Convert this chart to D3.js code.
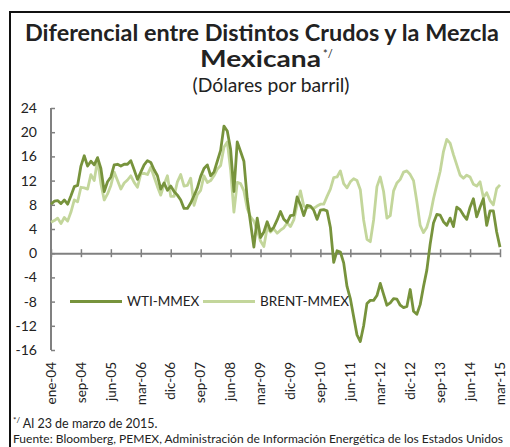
<!DOCTYPE html>
<html>
<head>
<meta charset="utf-8">
<script src="https://cdn.jsdelivr.net/npm/d3@7"></script>
<style>
  body { margin: 0; background: #fff; }
  text { font-family: Lato, "Noto Sans", sans-serif; fill: #222; }
</style>
</head>
<body>
<svg id="chart" width="510" height="447"></svg>
<script>
// tick labels (one every 9 positions)
const tickLabels = ["ene-04", "sep-04", "jun-05", "mar-06", "dic-06", "sep-07", "jun-08", "mar-09",
  "dic-09", "sep-10", "jun-11", "mar-12", "dic-12", "sep-13", "jun-14", "mar-15"]
const yTicks = [24, 20, 16, 12, 8, 4, 0, -4, -8, -12, -16]

// monthly differentials
const wti = [8.1, 8.6, 8.7, 8.2, 8.8, 8.1, 9.5, 11.0, 11.2, 14.4,
  16.1, 14.4, 15.2, 14.6, 15.8, 14.0, 10.2, 11.8, 12.6, 14.6,
  14.7, 14.4, 14.7, 14.7, 15.3, 13.8, 12.2, 13.4, 14.6, 15.3,
  15.0, 13.8, 12.8, 10.6, 11.6, 10.4, 11.1, 10.2, 9.6, 8.8,
  7.4, 7.4, 8.3, 9.5, 10.8, 12.7, 14.0, 14.6, 12.8, 13.4,
  15.2, 17.0, 21.0, 20.2, 17.2, 10.2, 18.4, 16.8, 15.2, 9.0,
  5.0, 1.0, 5.8, 2.6, 3.5, 5.2, 3.7, 4.3, 5.5, 6.9,
  5.6, 5.1, 6.2, 6.3, 9.3, 8.0, 6.2, 7.9, 7.8, 7.1,
  5.6, 7.1, 7.2, 7.0, 4.3, -1.5, 0.4, 0.2, -1.6, -5.5,
  -7.5, -10.5, -13.5, -14.6, -12.0, -8.3, -7.8, -7.8, -7.0, -5.0,
  -6.8, -8.6, -8.2, -7.5, -7.6, -8.6, -9.0, -8.8, -6.0, -9.6,
  -10.1, -8.5, -5.5, -2.8, 1.5, 5.0, 6.4, 6.3, 5.2, 4.6,
  5.8, 4.4, 7.6, 7.2, 6.3, 5.6, 7.6, 9.0, 6.0, 7.6,
  9.0, 4.6, 7.0, 7.0, 3.5, 1.0]

const brent = [5.1, 5.4, 5.8, 4.9, 5.9, 5.3, 6.8, 8.8, 8.5, 10.9,
  10.8, 10.6, 13.0, 12.0, 15.5, 11.5, 8.8, 9.8, 11.2, 13.4,
  12.0, 10.6, 11.6, 12.1, 12.8, 11.7, 10.9, 13.1, 13.2, 13.0,
  14.2, 12.6, 11.0, 9.6, 11.4, 12.8, 9.4, 9.4, 11.8, 13.0,
  11.1, 11.2, 12.4, 7.9, 9.7, 10.4, 12.8, 11.7, 12.0, 12.8,
  13.9, 14.5, 17.5, 18.4, 13.8, 6.8, 11.7, 11.5, 10.3, 7.4,
  6.0, 5.3, 3.8, 2.0, 1.1, 4.2, 3.5, 4.0, 3.3, 3.8,
  4.2, 5.0, 4.4, 5.5, 8.0, 10.3, 7.8, 7.5, 7.6, 7.4,
  7.8, 8.1, 8.1, 9.4, 10.6, 12.5, 12.6, 13.6, 11.5, 10.8,
  11.8, 12.3, 12.0, 10.5, 5.5, 2.3, 1.9, 5.5, 11.0, 12.6,
  10.2, 5.8, 6.2, 10.3, 11.6, 12.2, 13.4, 13.6, 13.0, 12.0,
  8.5, 4.6, 3.4, 4.3, 6.2, 9.0, 11.3, 13.5, 16.8, 18.8,
  18.2, 16.3, 14.6, 12.9, 12.4, 12.9, 12.6, 11.4, 11.1, 11.8,
  9.2, 10.0, 8.7, 8.0, 10.7, 11.3]

const seriesNames = ["WTI-MMEX", "BRENT-MMEX"]
const colors = ["#77933c", "#c3d69b"]

let svg = d3.select("#chart")

// frame
svg.append("rect")
  .attr("x", 10).attr("y", 12)
  .attr("width", 520).attr("height", 460)
  .attr("fill", "none").attr("stroke", "#111").attr("stroke-width", 2)

// titles
svg.append("text").attr("x", 262).attr("y", 41).attr("text-anchor", "middle")
  .attr("font-size", 22).attr("font-weight", "bold")
  .attr("textLength", 474).attr("lengthAdjust", "spacingAndGlyphs")
  .text("Diferencial entre Distintos Crudos y la Mezcla")
svg.append("text").attr("x", 200).attr("y", 67)
  .attr("font-size", 22).attr("font-weight", "bold")
  .attr("textLength", 121).attr("lengthAdjust", "spacingAndGlyphs")
  .text("Mexicana")
svg.append("text").attr("x", 323).attr("y", 58)
  .attr("font-size", 11)
  .text("*/")
svg.append("text").attr("x", 271).attr("y", 92).attr("text-anchor", "middle")
  .attr("font-size", 20)
  .attr("textLength", 157).attr("lengthAdjust", "spacingAndGlyphs")
  .text("(Dólares por barril)")

let x = d3.scaleLinear().domain([0, 135]).range([51, 500])
let y = d3.scaleLinear().domain([-16, 24]).range([350, 108])

// y axis
let yAxis = svg.append("g").attr("transform", "translate(51,0)")
  .call(d3.axisRight(y).tickValues(yTicks).tickSize(4).tickFormat(""))
yAxis.select(".domain").attr("stroke", "#808080").attr("stroke-width", 2)
  .attr("d", "M0," + y(24) + "V" + y(-16))
yAxis.selectAll(".tick line").attr("stroke", "#808080").attr("stroke-width", 1.5)
svg.append("g").selectAll("text").data(yTicks).enter().append("text")
  .attr("x", 37).attr("y", d => y(d)).attr("dy", "0.35em")
  .attr("text-anchor", "end").attr("font-size", 14)
  .text(d => d)

// x axis at zero with crossing ticks
let xTickVals = tickLabels.map((d, i) => i * 9)
let xAxis = svg.append("g").attr("transform", "translate(0," + y(0) + ")")
  .call(d3.axisBottom(x).tickValues(xTickVals).tickSize(0).tickFormat(""))
xAxis.select(".domain").attr("stroke", "#808080").attr("stroke-width", 2)
xAxis.selectAll(".tick line").attr("y1", -4).attr("y2", 4)
  .attr("stroke", "#808080").attr("stroke-width", 1.5)
svg.append("g").selectAll("text").data(tickLabels).enter().append("text")
  .attr("transform", (d, i) => "translate(" + x(i * 9) + ",362) rotate(-90)")
  .attr("dy", "0.35em").attr("text-anchor", "end").attr("font-size", 13.5)
  .text(d => d)

// lines
let line = d3.line().x((d, i) => x(i)).y(d => y(d))
let series = [brent, wti]
let seriesColors = [colors[1], colors[0]]
svg.selectAll("path.series").data(series).enter().append("path")
  .attr("class", "series")
  .attr("d", d => line(d))
  .attr("fill", "none")
  .attr("stroke", (d, i) => seriesColors[i])
  .attr("stroke-width", 2.8)
  .attr("stroke-linejoin", "round")

// legend
let legendX = [70, 203]
seriesNames.forEach((name, i) => {
  svg.append("line").attr("x1", legendX[i]).attr("x2", legendX[i] + 52)
    .attr("y1", y(-8)).attr("y2", y(-8))
    .attr("stroke", colors[i]).attr("stroke-width", 3)
  svg.append("text").attr("x", legendX[i] + 57).attr("y", y(-8)).attr("dy", "0.35em")
    .attr("font-size", 13.5).attr("fill", "#333").text(name)
})

// footnotes
let f1 = svg.append("text").attr("x", 13).attr("y", 428).attr("font-size", 12.5)
f1.append("tspan").attr("font-size", 8).attr("dy", -5).text("*/")
f1.append("tspan").attr("dy", 5).text(" Al 23 de marzo de 2015.")
svg.append("text").attr("x", 13).attr("y", 443).attr("font-size", 12)
  .attr("textLength", 490).attr("lengthAdjust", "spacingAndGlyphs")
  .text("Fuente: Bloomberg, PEMEX, Administración de Información Energética de los Estados Unidos")
</script>
</body>
</html>
